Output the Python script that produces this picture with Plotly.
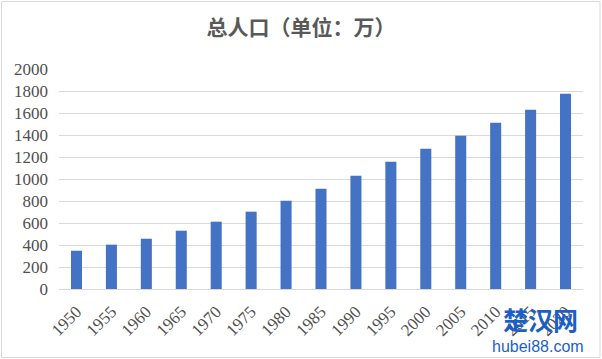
import plotly.graph_objects as go

years = ["1950", "1955", "1960", "1965", "1970", "1975", "1980", "1985",
         "1990", "1995", "2000", "2005", "2010", "2015", "2020"]
population = [348, 403, 457, 530, 612, 703, 803, 912,
              1030, 1157, 1275, 1394, 1512, 1630, 1775]
y_ticks = [0, 200, 400, 600, 800, 1000, 1200, 1400, 1600, 1800, 2000]
title_text = "总人口（单位：万）"

W, H = 602, 359
ml, mr, mt, mb = 59, 19, 69, 70

fig = go.Figure(go.Bar(x=years, y=population, marker=dict(color="#4472C4", line=dict(width=0))))

tick_font = dict(family="Liberation Serif, Times New Roman, serif", size=17, color="#505050")

fig.update_layout(
    width=W, height=H,
    margin=dict(l=ml, r=mr, t=mt, b=mb, pad=0),
    paper_bgcolor="white", plot_bgcolor="white",
    bargap=0.684,
    showlegend=False,
    title=dict(text="<b>" + title_text + "</b>", x=0.5, xanchor="center", y=1 - 28 / H, yanchor="middle",
               font=dict(family="Noto Sans CJK SC", size=21, color="#595959")),
    xaxis=dict(type="category", tickangle=-45, tickfont=tick_font, showgrid=False,
               showline=True, linecolor="#d9d9d9", linewidth=1, ticks="", ticklen=0,
               ticklabelstandoff=5),
    yaxis=dict(range=[0, 2000], tickvals=y_ticks, tickfont=tick_font, showgrid=True,
               gridcolor="#d9d9d9", gridwidth=1, zeroline=False, showline=False, ticks="",
               ticklabelstandoff=10),
)

# outer chart border
pw = W - ml - mr
ph = H - mt - mb
def px_x(x): return (x - ml) / pw
def px_y(y): return (H - mb - y) / ph
fig.add_shape(type="rect", xref="paper", yref="paper",
              x0=px_x(1.5), x1=px_x(600), y0=px_y(1.5), y1=px_y(357.5),
              line=dict(color="#d9d9d9", width=1), fillcolor="rgba(0,0,0,0)")

# watermark text
fig.add_annotation(xref="paper", yref="paper", x=px_x(540), y=px_y(319), text="<b>楚汉网</b>",
                   showarrow=False, font=dict(family="Noto Sans CJK SC", size=25, color="#1a5fc8"),
                   xanchor="center", yanchor="middle")
fig.add_annotation(xref="paper", yref="paper", x=px_x(538), y=px_y(346), text="hubei88.com",
                   showarrow=False, font=dict(family="Liberation Sans, Arial", size=16, color="#1a5fc8"),
                   xanchor="center", yanchor="middle")

fig.write_html("out.html")
